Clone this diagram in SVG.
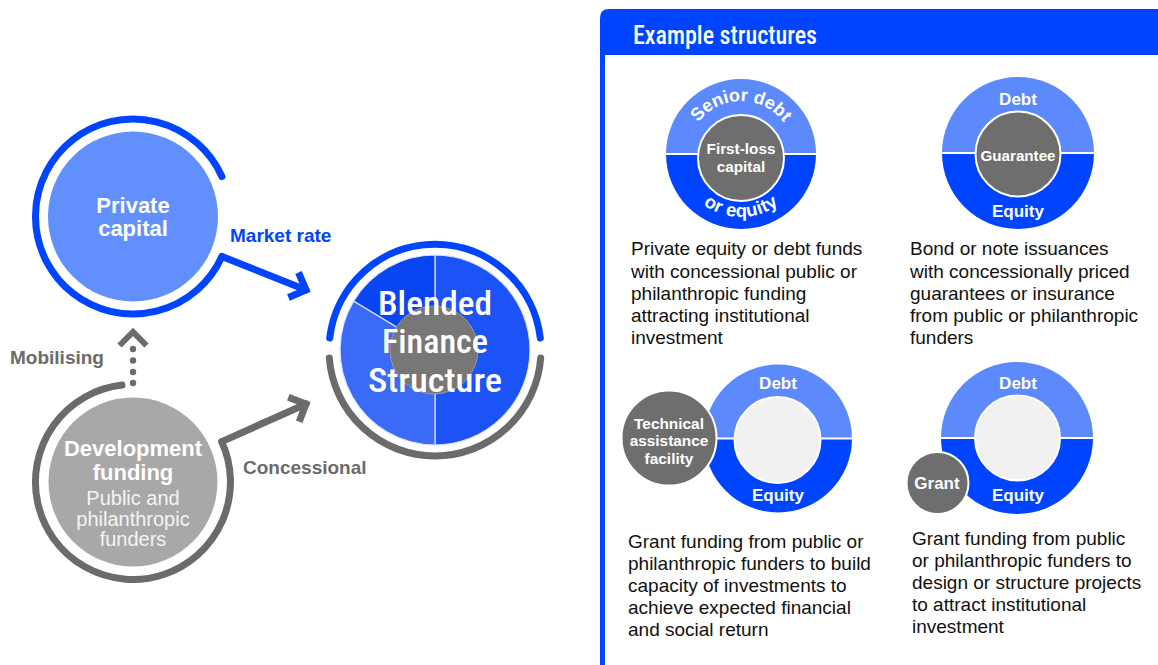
<svg xmlns="http://www.w3.org/2000/svg" width="1158" height="665" viewBox="0 0 1158 665">
<style>
.b{font-family:"Liberation Sans",Arial,sans-serif;font-weight:bold}
.r{font-family:"Liberation Sans",Arial,sans-serif}
.wt{fill:#ffffff}
.cond{font-family:"Roboto Condensed","Liberation Sans Narrow","DejaVu Sans Condensed",Roboto,sans-serif;font-weight:500;fill:#ffffff}
.desc{font-family:"Liberation Sans",Arial,sans-serif;font-size:19px;fill:#111111}
.lb{fill:#5c89fb}
.db{fill:#0044ff}
.dg{fill:#6e6e6e;stroke:#ffffff;stroke-width:2}
.lg{fill:#f1f1f1;stroke:#ffffff;stroke-width:2}
.split{stroke:#ffffff;stroke-width:2}
.ringB{fill:none;stroke:#0044ff;stroke-width:7;stroke-linecap:round}
.ringG{fill:none;stroke:#6b6b6b;stroke-width:7;stroke-linecap:round}
.seg{stroke:#dce4ff;stroke-width:1.2}
</style>
<rect width="1158" height="665" fill="#ffffff"/>

<g id="private-capital">
<circle cx="133" cy="216.5" r="85" fill="#6190fc"/>
<path class="ringB" d="M221.9,176.5 A97.5 97.5 0 1 0 221.9,256.5"/>
<text class="b wt" font-size="22" text-anchor="middle"><tspan x="133" y="212.5">Private</tspan><tspan x="133" y="236">capital</tspan></text>
</g>

<g id="development-funding">
<circle cx="133" cy="482" r="84.5" fill="#a8a8a8"/>
<path class="ringG" d="M122,385.1 A97.5 97.5 0 1 0 221.7,441.6"/>
<text class="b wt" font-size="22" text-anchor="middle"><tspan x="133" y="456">Development</tspan><tspan x="133" y="479.5">funding</tspan></text>
<text class="r" font-size="20" fill="#f4f4f4" text-anchor="middle"><tspan x="133" y="505">Public and</tspan><tspan x="133" y="526">philanthropic</tspan><tspan x="133" y="546">funders</tspan></text>
</g>

<g id="blended-finance-structure">
<path class="ringB" d="M329.7,338 A106 106 0 0 1 540.3,338"/>
<path class="ringG" d="M540.7,357.9 A106 106 0 0 1 329.3,357.9"/>
<path class="seg" d="M435,350 L435,255 A95 95 0 0 1 435,445 Z" fill="#1c53f6"/>
<path class="seg" d="M435,350 L435,445 A95 95 0 0 1 353.6,301.1 Z" fill="#3a6af6"/>
<path class="seg" d="M435,350 L353.6,301.1 A95 95 0 0 1 435,255 Z" fill="#0a45f4"/>
<circle cx="434" cy="350" r="44" fill="#777777" stroke="#9a9a9a" stroke-width="1"/>
<text class="cond" font-size="34" text-anchor="middle"><tspan x="435" y="314.5" textLength="114" lengthAdjust="spacingAndGlyphs">Blended</tspan></text>
<text class="cond" font-size="34" text-anchor="middle"><tspan x="435" y="353" textLength="106" lengthAdjust="spacingAndGlyphs">Finance</tspan></text>
<text class="cond" font-size="34" text-anchor="middle"><tspan x="435" y="391.5" textLength="134" lengthAdjust="spacingAndGlyphs">Structure</tspan></text>
</g>

<g id="connectors">
<g id="market-rate">
<path d="M221.9,256.5 L306,290" fill="none" stroke="#0044ff" stroke-width="7" stroke-linecap="round"/>
<path d="M298.5,272.5 L306,290 L288.5,297.5" fill="none" stroke="#0044ff" stroke-width="7" stroke-linejoin="miter"/>
<text class="b" font-size="19" fill="#0044ff" x="230" y="241.5">Market rate</text>
</g>
<g id="concessional">
<path d="M221.7,441.6 L306,404" fill="none" stroke="#6b6b6b" stroke-width="7" stroke-linecap="round"/>
<path d="M288.3,397.2 L306,404 L299.2,421.7" fill="none" stroke="#6b6b6b" stroke-width="7" stroke-linejoin="miter"/>
<text class="b" font-size="19" fill="#6b6b6b" x="243" y="473.5">Concessional</text>
</g>
<g id="mobilising">
<path d="M119.5,345.5 L133,332 L146.5,345.5" fill="none" stroke="#6b6b6b" stroke-width="6" stroke-linejoin="miter"/>
<circle cx="133" cy="349" r="3.2" fill="#6b6b6b"/>
<circle cx="133" cy="360.5" r="3.2" fill="#6b6b6b"/>
<circle cx="133" cy="372" r="3.2" fill="#6b6b6b"/>
<circle cx="133" cy="383" r="3.2" fill="#6b6b6b"/>
<text class="b" font-size="19" fill="#6b6b6b" x="10" y="364">Mobilising</text>
</g>
</g>

<g id="example-panel">
<path d="M600,665 V18 Q600,9 609,9 H1170 V55 H605 V665 Z" fill="#0044ff"/>
<text class="cond" font-size="26" x="633" y="43.5" textLength="184" lengthAdjust="spacingAndGlyphs">Example structures</text>
</g>

<defs>
<path id="arcTop1" d="M688,154 A53 53 0 0 1 794,154"/>
<path id="arcBot1" d="M678,154 A63 63 0 0 0 804,154"/>
</defs>

<g id="example-1">
<path class="lb" d="M666,154 A75 75 0 0 1 816,154 Z"/>
<path class="db" d="M666,154 A75 75 0 0 0 816,154 Z"/>
<path class="split" d="M666,154 H816"/>
<circle class="dg" cx="741" cy="158" r="43"/>
<text class="b wt" font-size="18"><textPath href="#arcTop1" startOffset="50%" text-anchor="middle">Senior debt</textPath></text>
<text class="b wt" font-size="18.5" letter-spacing="0.3"><textPath href="#arcBot1" startOffset="50%" text-anchor="middle">or equity</textPath></text>
<text class="b wt" font-size="15.3" text-anchor="middle"><tspan x="741" y="153.5">First-loss</tspan><tspan x="741" y="171.5">capital</tspan></text>
<text class="desc"><tspan x="631" y="255">Private equity or debt funds</tspan><tspan x="631" y="277.5">with concessional public or</tspan><tspan x="631" y="300">philanthropic funding</tspan><tspan x="631" y="322">attracting institutional</tspan><tspan x="631" y="344">investment</tspan></text>
</g>

<g id="example-2">
<path class="lb" d="M942,153 A76 76 0 0 1 1094,153 Z"/>
<path class="db" d="M942,153 A76 76 0 0 0 1094,153 Z"/>
<path class="split" d="M942,153 H1094"/>
<circle class="dg" cx="1018" cy="154" r="42.5"/>
<text class="b wt" font-size="17" text-anchor="middle" x="1018" y="105">Debt</text>
<text class="b wt" font-size="17" text-anchor="middle" x="1018" y="216.5">Equity</text>
<text class="b wt" font-size="15.2" text-anchor="middle" x="1018" y="160.5">Guarantee</text>
<text class="desc"><tspan x="910" y="255">Bond or note issuances</tspan><tspan x="910" y="277.5">with concessionally priced</tspan><tspan x="910" y="300">guarantees or insurance</tspan><tspan x="910" y="322">from public or philanthropic</tspan><tspan x="910" y="344">funders</tspan></text>
</g>

<g id="example-3">
<path class="lb" d="M704,438.5 A74 74 0 0 1 852,438.5 Z"/>
<path class="db" d="M704,438.5 A74 74 0 0 0 852,438.5 Z"/>
<path class="split" d="M704,438.5 H852"/>
<circle class="lg" cx="777.5" cy="440" r="43"/>
<text class="b wt" font-size="17" text-anchor="middle" x="778" y="389">Debt</text>
<text class="b wt" font-size="17" text-anchor="middle" x="778" y="500.5">Equity</text>
<circle class="dg" cx="669" cy="438" r="47.5"/>
<text class="b wt" font-size="15.4" text-anchor="middle"><tspan x="669" y="428.5">Technical</tspan><tspan x="669" y="446">assistance</tspan><tspan x="669" y="463.5">facility</tspan></text>
<text class="desc"><tspan x="628" y="547.5">Grant funding from public or</tspan><tspan x="628" y="569.5">philanthropic funders to build</tspan><tspan x="628" y="591.5">capacity of investments to</tspan><tspan x="628" y="613.5">achieve expected financial</tspan><tspan x="628" y="635.5">and social return</tspan></text>
</g>

<g id="example-4">
<path class="lb" d="M941,438 A76 76 0 0 1 1093,438 Z"/>
<path class="db" d="M941,438 A76 76 0 0 0 1093,438 Z"/>
<path class="split" d="M941,438 H1093"/>
<circle class="lg" cx="1017.5" cy="438" r="42.5"/>
<text class="b wt" font-size="17" text-anchor="middle" x="1018" y="389">Debt</text>
<text class="b wt" font-size="17" text-anchor="middle" x="1018" y="500.5">Equity</text>
<circle class="dg" cx="937.5" cy="483" r="31"/>
<text class="b wt" font-size="17" text-anchor="middle" x="937" y="489">Grant</text>
<text class="desc"><tspan x="912" y="544.5">Grant funding from public</tspan><tspan x="912" y="566.5">or philanthropic funders to</tspan><tspan x="912" y="588.5">design or structure projects</tspan><tspan x="912" y="610.5">to attract institutional</tspan><tspan x="912" y="632.5">investment</tspan></text>
</g>
</svg>
